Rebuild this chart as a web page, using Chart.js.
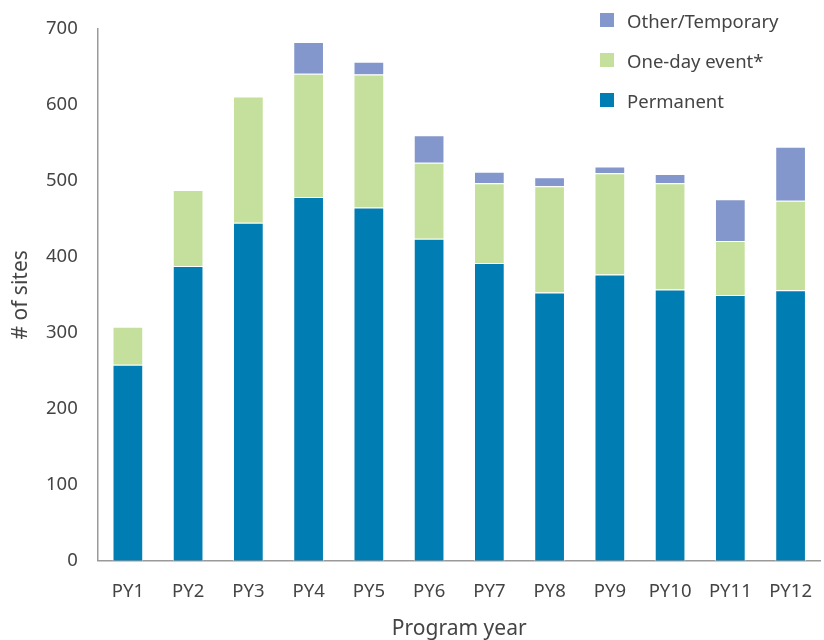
<!DOCTYPE html>
<html>
<head>
<meta charset="utf-8">
<script src="https://cdn.jsdelivr.net/npm/chart.js@4/dist/chart.umd.min.js"></script>
<style>
  body { margin: 0; background: #fff; }
  #wrap { position: relative; width: 824px; height: 640px; }
  #legend { position: absolute; left: 600px; top: 0px; font-family: "Noto Sans", sans-serif; font-size: 18.5px; color: #444; }
  #legend div { height: 40px; display: flex; align-items: center; }
  #legend span.box { display: inline-block; width: 14px; height: 14px; margin-right: 13px; }
</style>
</head>
<body>
<div id="wrap">
  <canvas id="chart" width="824" height="640"></canvas>
  <div id="legend"></div>
</div>
<script>
const years = ["PY1","PY2","PY3","PY4","PY5","PY6","PY7","PY8","PY9","PY10","PY11","PY12"];
const permanent = [258, 388, 445, 479, 465, 424, 392, 353, 377, 357, 350, 356];
const oneDay    = [50, 100, 166, 162, 175, 100, 105, 140, 133, 140, 71, 118];
const other     = [0, 0, 0, 42, 17, 36, 15, 12, 9, 12, 55, 71];

const yTicks = [0, 100, 200, 300, 400, 500, 600, 700];

const fontFam = '"Noto Sans", sans-serif';
const textColor = '#444';

function makeChart(){
    const ctx = document.getElementById('chart');

    const chart = new Chart(ctx, {
      type: 'bar',
      data: {
        labels: years,
        datasets: [
          { label: 'Permanent', data: permanent, backgroundColor: '#007db3' },
          { label: 'One-day event*', data: oneDay, backgroundColor: '#c5e09c' },
          { label: 'Other/Temporary', data: other, backgroundColor: '#8497cd' }
        ]
      },
      options: {
        responsive: false,
        animation: false,
        layout: { padding: { top: 29, right: 0, left: 5, bottom: 0 } },
        datasets: {
          bar: {
            borderColor: '#fff',
            borderWidth: 1,
            barPercentage: 0.51,
            categoryPercentage: 1
          }
        },
        plugins: {
          legend: { display: false },
          tooltip: { enabled: false }
        },
        scales: {
          x: {
            stacked: true,
            grid: { display: false },
            border: { display: true, color: '#9a9a9a', width: 1.5 },
            ticks: { color: textColor, font: { family: fontFam, size: 18.5 }, padding: 12 },
            title: { display: true, text: 'Program year', color: textColor, font: { family: fontFam, size: 21, lineHeight: 1 }, padding: { top: 4, bottom: 0 } }
          },
          y: {
            stacked: true,
            min: 0,
            max: 700,
            afterBuildTicks: axis => { axis.ticks = yTicks.map(v => ({ value: v })); },
            grid: { display: false },
            border: { display: true, color: '#9a9a9a', width: 1.5 },
            ticks: { color: textColor, font: { family: fontFam, size: 18.5 }, padding: 12 },
            title: { display: true, text: '# of sites', color: textColor, font: { family: fontFam, size: 21, lineHeight: 1 }, padding: { top: 6, bottom: 2 } }
          }
        }
      }
    });

    // legend, top item first like the original
    const legend = document.getElementById('legend');
    chart.data.datasets.slice().reverse().forEach(ds => {
        const row = document.createElement('div');
        row.innerHTML = '<span class="box" style="background:' + ds.backgroundColor + '"></span>' + ds.label;
        legend.appendChild(row);
    });
}

makeChart()
</script>
</body>
</html>
